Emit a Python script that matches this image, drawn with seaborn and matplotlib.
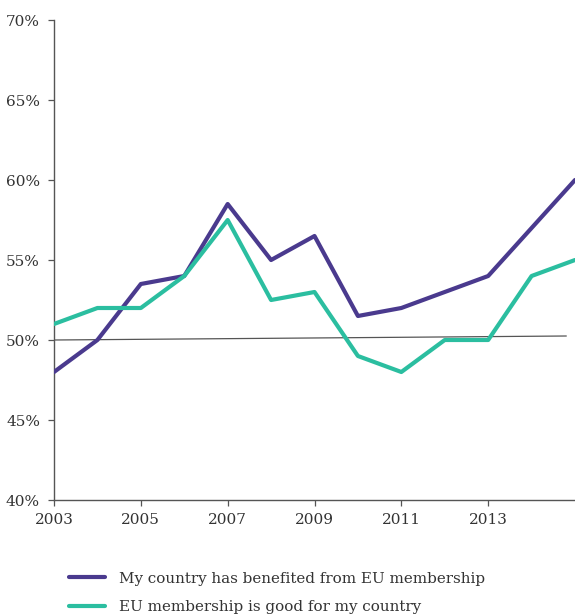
import numpy as np
import pandas as pd
import matplotlib
matplotlib.use("Agg")
import matplotlib.pyplot as plt
import seaborn as sns
from matplotlib.lines import Line2D

years = [2003, 2004, 2005, 2006, 2007, 2008, 2009, 2010, 2011, 2012, 2013, 2014, 2015]
benefited = [48, 50, 53.5, 54, 58.5, 55, 56.5, 51.5, 52, 53, 54, 57, 60]
good_for = [51, 52, 52, 54, 57.5, 52.5, 53, 49, 48, 50, 50, 54, 55]
series_names = ["My country has benefited from EU membership",
                "EU membership is good for my country"]
reference_x = [2003, 2014.8]
reference_y = [50.0, 50.25]
x_ticks = [2003, 2005, 2007, 2009, 2011, 2013]
y_ticks = [40, 45, 50, 55, 60, 65, 70]

colors = ["#4a3a8e", "#2bbea0"]

df = pd.DataFrame({
    "year": years * 2,
    "value": benefited + good_for,
    "series": [series_names[0]] * len(years) + [series_names[1]] * len(years),
})

sns.set_style("white")
plt.rcParams["font.family"] = ["DejaVu Serif"]

fig = plt.figure(figsize=(5.75, 6.15), dpi=100)
ax = fig.add_axes([54 / 575, 1 - 500 / 615, 1 - 54 / 575, 480 / 615])

ax.plot(reference_x, reference_y, color="#555555", lw=0.9, zorder=1)
sns.lineplot(data=df, x="year", y="value", hue="series", palette=colors,
             linewidth=3, ax=ax, legend=False, zorder=3)

ax.set_xlim(2003, 2015)
ax.set_ylim(40, 70)
ax.set_xticks(x_ticks)
ax.set_xticklabels([str(t) for t in x_ticks])
ax.set_yticks(y_ticks)
ax.set_yticklabels([f"{t}%" for t in y_ticks])
ax.set_xlabel("")
ax.set_ylabel("")
for s in ["top", "right"]:
    ax.spines[s].set_visible(False)
for s in ["left", "bottom"]:
    ax.spines[s].set_color("#555555")
    ax.spines[s].set_linewidth(1.0)
ax.tick_params(axis="both", which="major", direction="out", length=4, width=0.9,
               color="#555555", labelsize=11, labelcolor="#333333",
               bottom=True, left=True)
ax.tick_params(axis="x", pad=5)
ax.tick_params(axis="y", pad=6)

handles = [Line2D([], [], color=c, lw=3, solid_capstyle="round") for c in colors]
fig.legend(handles, series_names, loc="upper left",
           bbox_to_anchor=(55 / 575, 1 - 558 / 615), frameon=False,
           handlelength=2.4, handletextpad=0.9, labelspacing=0.95,
           prop={"size": 10.9}, labelcolor="#333333")

fig.savefig("out.png", dpi=100)
